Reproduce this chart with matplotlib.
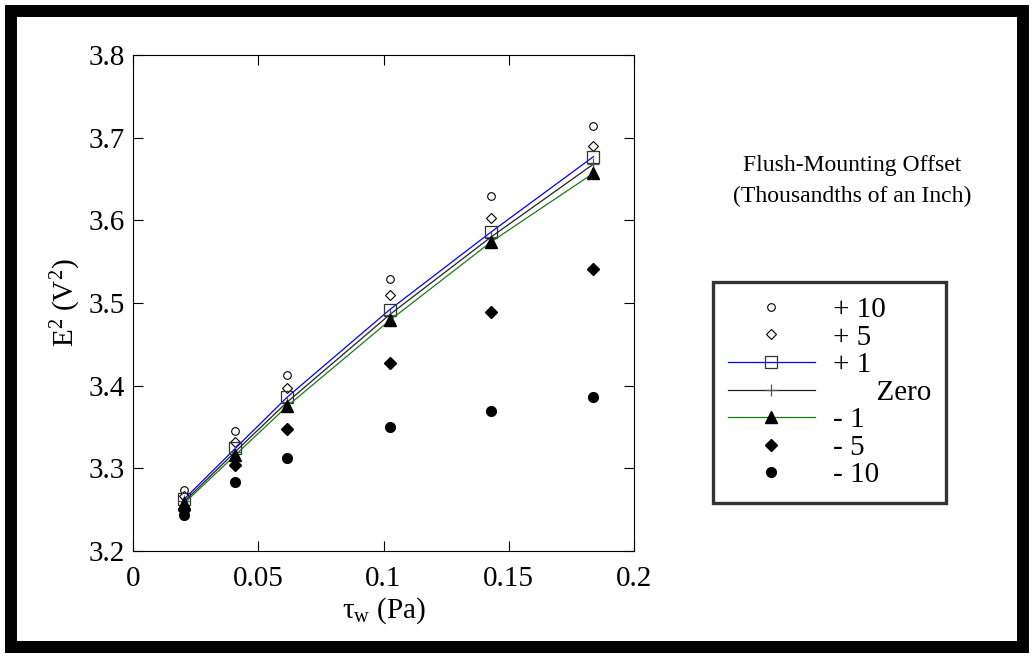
import matplotlib
matplotlib.use("Agg")
import matplotlib.pyplot as plt
from matplotlib.patches import Rectangle

plt.rcParams['font.family'] = ['Liberation Serif', 'DejaVu Serif']
plt.rcParams['mathtext.fontset'] = 'custom'
plt.rcParams['mathtext.rm'] = 'Liberation Serif'
plt.rcParams['mathtext.it'] = 'Liberation Serif'

# wall shear stress (Pa)
tau_w = [0.0205, 0.0408, 0.0615, 0.1025, 0.143, 0.1838]

# E^2 (V^2) for each flush-mounting offset
e2_p10 = [3.274, 3.345, 3.413, 3.529, 3.629, 3.714]
e2_p5 = [3.266, 3.332, 3.397, 3.510, 3.603, 3.690]
e2_p1 = [3.263, 3.324, 3.386, 3.492, 3.586, 3.677]
e2_zero = [3.260, 3.320, 3.380, 3.486, 3.580, 3.668]
e2_m1 = [3.258, 3.316, 3.375, 3.479, 3.574, 3.657]
e2_m5 = [3.250, 3.304, 3.347, 3.427, 3.489, 3.541]
e2_m10 = [3.244, 3.283, 3.313, 3.350, 3.369, 3.386]

labels = ['+ 10', '+ 5', '+ 1', '      Zero', '- 1', '- 5', '- 10']

W, H = 1034, 658
fig = plt.figure(figsize=(W / 100, H / 100), dpi=100)
ax = fig.add_axes([133 / W, 1 - 551 / H, 501 / W, 496 / H])

h = []
h += ax.plot(tau_w, e2_p10, 'o', ls='none', ms=5.5, mfc='white', mec='black', mew=0.8)
h += ax.plot(tau_w, e2_p5, 'D', ls='none', ms=5.5, mfc='white', mec='black', mew=0.8)
h += ax.plot(tau_w, e2_p1, '-s', color='#0000ff', lw=0.9, ms=9, mfc='none', mec='#333333', mew=0.9)
h += ax.plot(tau_w, e2_zero, '-+', color='#222222', lw=0.9, ms=9, mec='#555555', mew=0.9)
h += ax.plot(tau_w, e2_m1, '-^', color='#1a7a1a', lw=0.9, ms=8, mfc='black', mec='black')
h += ax.plot(tau_w, e2_m5, 'D', ls='none', ms=6, mfc='black', mec='black')
h += ax.plot(tau_w, e2_m10, 'o', ls='none', ms=7, mfc='black', mec='black')

ax.set_xlim(0, 0.2)
ax.set_ylim(3.2, 3.8)
ax.set_xticks([0, 0.05, 0.1, 0.15, 0.2])
ax.set_xticklabels(['0', '0.05', '0.1', '0.15', '0.2'])
ax.set_yticks([3.2, 3.3, 3.4, 3.5, 3.6, 3.7, 3.8])
ax.tick_params(direction='in', length=7, width=0.8, top=True, right=True,
               labelsize=21)
ax.tick_params(axis='y', pad=6)
ax.tick_params(axis='x', pad=11)
for s in ax.spines.values():
    s.set_linewidth(0.8)

ax.set_xlabel(r'$\mathrm{\tau_w}$ (Pa)', fontsize=21, labelpad=2)
ax.set_ylabel(r'E$^2$ (V$^2$)', fontsize=21, labelpad=4)

fig.text(852 / W, 1 - 165 / H, 'Flush-Mounting Offset', ha='center', va='center', fontsize=17)
fig.text(852 / W, 1 - 196 / H, '(Thousandths of an Inch)', ha='center', va='center', fontsize=17)

leg = fig.legend(h, labels, loc='upper left', bbox_to_anchor=(713 / W, 1 - 282 / H),
                 fontsize=21, frameon=True, fancybox=False, handlelength=3.0,
                 handletextpad=0.6, borderpad=0.5, labelspacing=0.04,
                 borderaxespad=0, edgecolor='black')
leg.get_frame().set_linewidth(2.4)

fig.patches.append(Rectangle((11 / W, 11 / H), 1 - 22 / W, 1 - 22 / H,
                             transform=fig.transFigure, fill=False,
                             edgecolor='black', linewidth=8.6))

fig.savefig('out.png', dpi=100)
